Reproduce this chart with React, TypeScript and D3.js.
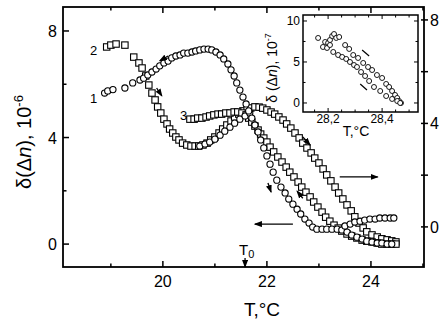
import * as d3 from "d3";

// curve 1, circles (left axis)
const curve1: [number, number][] = [
  [18.88, 5.67], [18.94, 5.75], [19.04, 5.8], [19.27, 5.86], [19.42, 6.05], [19.56, 6.16],
  [19.63, 6.23], [19.71, 6.35], [19.79, 6.46], [19.87, 6.57], [19.94, 6.69], [20.02, 6.8],
  [20.1, 6.87], [20.17, 6.99], [20.25, 7.06], [20.33, 7.1], [20.4, 7.17], [20.48, 7.17],
  [20.56, 7.21], [20.63, 7.25], [20.71, 7.29], [20.79, 7.32], [20.87, 7.32], [20.94, 7.29],
  [21.02, 7.21], [21.1, 7.1], [21.17, 6.95], [21.25, 6.76], [21.31, 6.54], [21.37, 6.31],
  [21.42, 6.05], [21.48, 5.78], [21.54, 5.52], [21.6, 5.26], [21.65, 5.0], [21.71, 4.73],
  [21.77, 4.47], [21.83, 4.21], [21.88, 3.91], [21.94, 3.61], [22.0, 3.31], [22.06, 3.0],
  [22.12, 2.7], [22.19, 2.4], [22.27, 2.14], [22.35, 1.92], [22.42, 1.69], [22.5, 1.5],
  [22.58, 1.31], [22.65, 1.13], [22.73, 0.94], [22.81, 0.79], [22.88, 0.64], [22.96, 0.56],
  [23.06, 0.56], [23.15, 0.56], [23.25, 0.56], [23.35, 0.56], [23.44, 0.53], [23.54, 0.45],
  [23.63, 0.34], [23.73, 0.26], [23.83, 0.19], [23.92, 0.11], [24.02, 0.08], [24.12, 0.04],
  [24.21, 0.04], [24.31, 0.0], [24.4, 0.0],
];

// circles on the rising side of the dip (left axis)
const curve1Dip: [number, number][] = [
  [20.71, 3.68], [20.81, 3.76], [20.9, 3.83], [21.0, 3.94], [21.1, 4.09], [21.19, 4.24],
  [21.29, 4.39], [21.38, 4.54], [21.48, 4.69], [21.58, 4.81], [21.67, 4.92],
];

// circles, upper-right tail (left axis)
const curve1Tail: [number, number][] = [
  [23.5, 0.68], [23.6, 0.75], [23.69, 0.83], [23.79, 0.86], [23.88, 0.9], [23.98, 0.94],
  [24.08, 0.94], [24.17, 0.98], [24.27, 0.98], [24.37, 0.98], [24.44, 0.98],
];

// curve 2, squares (left axis)
const curve2: [number, number][] = [
  [18.92, 7.4], [19.0, 7.47], [19.1, 7.51], [19.27, 7.47], [19.44, 7.02], [19.54, 6.8],
  [19.6, 6.61], [19.67, 6.31], [19.73, 5.97], [19.79, 5.67], [19.85, 5.41], [19.9, 5.15],
  [19.96, 4.92], [20.02, 4.69], [20.08, 4.51], [20.13, 4.32], [20.19, 4.17], [20.25, 4.02],
  [20.31, 3.91], [20.38, 3.79], [20.46, 3.72], [20.54, 3.68], [20.62, 3.68], [20.69, 3.68],
  [20.77, 3.72], [20.85, 3.79], [20.92, 3.91], [21.0, 4.02], [21.08, 4.17], [21.15, 4.32],
  [21.23, 4.47], [21.31, 4.62], [21.38, 4.77], [21.46, 4.88], [21.54, 5.0], [21.62, 5.07],
  [21.69, 5.11], [21.77, 5.15],
];

// curve 2 continued, squares (right axis)
const curve2Right: [number, number][] = [
  [21.85, 4.63], [21.92, 4.59], [22.0, 4.52], [22.08, 4.44], [22.15, 4.36], [22.23, 4.25],
  [22.31, 4.13], [22.38, 3.98], [22.46, 3.82], [22.54, 3.63], [22.62, 3.44], [22.69, 3.24],
  [22.77, 3.05], [22.85, 2.86], [22.92, 2.66], [23.0, 2.47], [23.08, 2.24], [23.15, 2.01],
  [23.23, 1.78], [23.31, 1.54], [23.38, 1.31], [23.46, 1.08], [23.54, 0.85], [23.62, 0.62],
  [23.69, 0.39], [23.77, 0.15], [23.85, -0.04], [23.92, -0.19], [24.02, -0.31], [24.12, -0.39],
  [24.21, -0.46], [24.31, -0.5], [24.4, -0.54], [24.48, -0.58],
];

// curve 3, squares (left axis)
const curve3: [number, number][] = [
  [20.52, 4.69], [20.6, 4.69], [20.67, 4.73], [20.75, 4.73], [20.83, 4.77], [20.9, 4.81],
  [20.98, 4.85], [21.06, 4.88], [21.13, 4.88], [21.21, 4.92], [21.29, 4.92], [21.37, 4.96],
  [21.44, 4.96], [21.52, 4.92], [21.6, 4.85], [21.65, 4.73], [21.71, 4.58], [21.77, 4.43],
  [21.83, 4.28], [21.88, 4.13], [21.94, 3.98], [22.0, 3.83], [22.06, 3.64], [22.13, 3.46],
  [22.21, 3.27], [22.29, 3.08], [22.37, 2.89], [22.44, 2.7], [22.52, 2.52], [22.6, 2.33],
  [22.67, 2.14], [22.75, 1.95], [22.83, 1.77], [22.9, 1.58], [22.98, 1.39], [23.06, 1.2],
  [23.13, 1.01], [23.21, 0.86], [23.29, 0.71], [23.37, 0.6], [23.44, 0.49], [23.54, 0.38],
  [23.63, 0.3], [23.73, 0.23], [23.83, 0.15], [23.92, 0.11], [24.02, 0.08], [24.12, 0.04],
  [24.21, 0.0], [24.31, 0.0], [24.4, 0.0], [24.48, 0.0],
];

// inset, circles
const insetData: [number, number][] = [
  [28.163, 7.93], [28.181, 6.83], [28.189, 7.44], [28.2, 7.32], [28.207, 7.68], [28.215, 8.17],
  [28.222, 8.41], [28.23, 7.93], [28.241, 8.05], [28.196, 6.71], [28.207, 7.07],
  [28.263, 7.07], [28.278, 6.59], [28.293, 5.85], [28.311, 5.49], [28.33, 4.88], [28.348, 4.39],
  [28.363, 4.02], [28.381, 3.41], [28.4, 3.05], [28.415, 2.32], [28.426, 1.95], [28.437, 1.46],
  [28.448, 0.98], [28.456, 0.61], [28.463, 0.24], [28.47, 0.0],
  [28.219, 6.22], [28.237, 5.85], [28.252, 5.61], [28.267, 5.37], [28.281, 5.0], [28.296, 4.63],
  [28.307, 4.39], [28.322, 3.78], [28.337, 3.29], [28.352, 2.68], [28.37, 1.95], [28.393, 1.46],
  [28.415, 0.85], [28.437, 0.49], [28.456, 0.24], [28.467, 0.0],
];
const insetDashes: [number, number, number, number][] = [
  [28.326, 6.46, 28.352, 5.73],
  [28.319, 2.32, 28.344, 1.59],
];

const xMajor = [20, 22, 24];
const xMinor = [19, 21, 23, 25];
const yMajor = [0, 4, 8];
const yMinor = [2, 6];
const rightTicks = [0, 2, 4, 6, 8];
const insetXTicks = [28.15, 28.2, 28.25, 28.3, 28.35, 28.4, 28.45, 28.5];
const insetXLabels = [28.2, 28.4];
const insetYTicks = [0, 2.5, 5, 7.5, 10];
const insetYLabels = [0, 5, 10];

// small direction arrows [T1, v1, T2, v2] on left axis
const arrows: [number, number, number, number][] = [
  [20.1, 7.06, 19.94, 6.88],
  [19.88, 5.86, 19.98, 5.56],
  [22.69, 4.02, 22.83, 3.72],
  [22.02, 2.29, 22.08, 1.95],
  [22.69, 1.72, 22.58, 1.99],
  [23.4, 2.52, 24.13, 2.52],
  [22.5, 0.75, 21.77, 0.75],
];
const T0 = 21.58;

const FONT = "'Liberation Sans', Arial, Helvetica, sans-serif";

export default function App() {
  const W = 443, H = 325;
  const fr = { left: 63, right: 424, top: 7, bottom: 267 };
  const x = d3.scaleLinear().domain([18.08, 25.02]).range([fr.left, fr.right]);
  const yL = d3.scaleLinear().domain([-0.86, 8.9]).range([fr.bottom, fr.top]);
  const yR = d3.scaleLinear().domain([-1.55, 8.5]).range([fr.bottom, fr.top]);

  const ins = { left: 303, right: 418, top: 15, bottom: 112 };
  const xi = d3.scaleLinear().domain([28.107, 28.533]).range([ins.left, ins.right]);
  const yi = d3.scaleLinear().domain([-1.1, 10.73]).range([ins.bottom, ins.top]);

  const circles = (data: [number, number][], key: string) =>
    data.map((d, i) => (
      <circle key={key + i} cx={x(d[0])} cy={yL(d[1])} r={3.1} fill="#fff" stroke="#000" strokeWidth={1.1} />
    ));
  const squares = (data: [number, number][], y: d3.ScaleLinear<number, number>, key: string) =>
    data.map((d, i) => (
      <rect key={key + i} x={x(d[0]) - 3.2} y={y(d[1]) - 3.2} width={6.4} height={6.4} fill="#fff" stroke="#000" strokeWidth={1.1} />
    ));

  return (
    <svg width={W} height={H} style={{ position: "absolute", left: 0, top: 0, background: "#fff" }} fontFamily={FONT}>
      <defs>
        <marker id="ah" markerUnits="userSpaceOnUse" markerWidth={8} markerHeight={6} refX={7} refY={3} orient="auto">
          <path d="M0,0 L8,3 L0,6 z" fill="#000" />
        </marker>
      </defs>

      {/* main frame */}
      <rect x={fr.left} y={fr.top} width={fr.right - fr.left} height={fr.bottom - fr.top} fill="none" stroke="#000" strokeWidth={1.8} />

      {/* bottom / top ticks */}
      {xMajor.map(t => (
        <g key={"xM" + t}>
          <line x1={x(t)} x2={x(t)} y1={fr.bottom} y2={fr.bottom - 6} stroke="#000" strokeWidth={1.5} />
          <line x1={x(t)} x2={x(t)} y1={fr.top} y2={fr.top + 6} stroke="#000" strokeWidth={1.5} />
          <text x={x(t)} y={287} textAnchor="middle" fontSize={16}>{t}</text>
        </g>
      ))}
      {xMinor.map(t => (
        <g key={"xm" + t}>
          <line x1={x(t)} x2={x(t)} y1={fr.bottom} y2={fr.bottom - 3.5} stroke="#000" strokeWidth={1.5} />
          <line x1={x(t)} x2={x(t)} y1={fr.top} y2={fr.top + 3.5} stroke="#000" strokeWidth={1.5} />
        </g>
      ))}

      {/* left axis */}
      {yMajor.map(t => (
        <g key={"yM" + t}>
          <line x1={fr.left} x2={fr.left + 6} y1={yL(t)} y2={yL(t)} stroke="#000" strokeWidth={1.5} />
          <text x={57} y={yL(t) + 6} textAnchor="end" fontSize={16}>{t}</text>
        </g>
      ))}
      {yMinor.map(t => (
        <line key={"ym" + t} x1={fr.left} x2={fr.left + 3.5} y1={yL(t)} y2={yL(t)} stroke="#000" strokeWidth={1.5} />
      ))}

      {/* right axis */}
      {rightTicks.map(t => (
        <line key={"r" + t} x1={fr.right - 3} x2={fr.right + 4} y1={yR(t)} y2={yR(t)} stroke="#000" strokeWidth={1.5} />
      ))}
      {yMajor.map(t => (
        <text key={"rl" + t} x={430} y={yR(t) + 6} fontSize={16}>{t}</text>
      ))}

      {/* axis titles */}
      <text x={262} y={316} textAnchor="middle" fontSize={19}>T,°C</text>
      <text transform={`translate(31,${142}) rotate(-90)`} textAnchor="middle" fontSize={20}>
        δ(Δ<tspan fontStyle="italic">n</tspan>), 10<tspan dy={-8} fontSize={13}>-6</tspan>
      </text>

      {/* data */}
      {squares(curve2, yL, "s2")}
      {squares(curve2Right, yR, "s2r")}
      {squares(curve3, yL, "s3")}
      {circles(curve1Dip, "c1d")}
      {circles(curve1, "c1")}
      {circles(curve1Tail, "c1t")}

      {/* curve labels */}
      <text x={x(18.67)} y={yL(7.3) + 5} textAnchor="middle" fontSize={13}>2</text>
      <text x={x(18.67)} y={yL(5.5) + 5} textAnchor="middle" fontSize={13}>1</text>
      <text x={x(20.4)} y={yL(4.85) + 5} textAnchor="middle" fontSize={13}>3</text>

      {/* arrows */}
      {arrows.map((a, i) => (
        <line key={"a" + i} x1={x(a[0])} y1={yL(a[1])} x2={x(a[2])} y2={yL(a[3])} stroke="#000" strokeWidth={1.3} markerEnd="url(#ah)" />
      ))}
      <line x1={x(T0)} x2={x(T0)} y1={fr.bottom - 9} y2={fr.bottom} stroke="#000" strokeWidth={1.3} markerEnd="url(#ah)" />
      <text x={x(T0) - 6} y={255} fontSize={15}>T<tspan dy={3} fontSize={11}>0</tspan></text>

      {/* inset */}
      <rect x={ins.left} y={ins.top} width={ins.right - ins.left} height={ins.bottom - ins.top} fill="#fff" stroke="#000" strokeWidth={1.5} />
      {insetXTicks.map(t => {
        const big = insetXLabels.includes(t);
        return (
          <g key={"ix" + t}>
            <line x1={xi(t)} x2={xi(t)} y1={ins.bottom} y2={ins.bottom - (big ? 4 : 2.5)} stroke="#000" strokeWidth={1} />
            <line x1={xi(t)} x2={xi(t)} y1={ins.top} y2={ins.top + (big ? 4 : 2.5)} stroke="#000" strokeWidth={1} />
          </g>
        );
      })}
      {insetXLabels.map(t => (
        <text key={"ixl" + t} x={xi(t)} y={123} textAnchor="middle" fontSize={12}>{String(t).replace(".", ",")}</text>
      ))}
      {insetYTicks.map(t => {
        const big = insetYLabels.includes(t);
        return (
          <g key={"iy" + t}>
            <line x1={ins.left} x2={ins.left + (big ? 4 : 2.5)} y1={yi(t)} y2={yi(t)} stroke="#000" strokeWidth={1} />
            <line x1={ins.right} x2={ins.right - (big ? 4 : 2.5)} y1={yi(t)} y2={yi(t)} stroke="#000" strokeWidth={1} />
          </g>
        );
      })}
      {insetYLabels.map(t => (
        <text key={"iyl" + t} x={300} y={yi(t) + 4} textAnchor="end" fontSize={12}>{t}</text>
      ))}
      <text x={356} y={136} textAnchor="middle" fontSize={14}>T,°C</text>
      <text transform={`translate(277,${68}) rotate(-90)`} textAnchor="middle" fontSize={14}>
        δ (Δ<tspan fontStyle="italic">n</tspan>), 10<tspan dy={-6} fontSize={9}>-7</tspan>
      </text>
      {insetData.map((d, i) => (
        <circle key={"in" + i} cx={xi(d[0])} cy={yi(d[1])} r={2.5} fill="#fff" stroke="#000" strokeWidth={0.9} />
      ))}
      {insetDashes.map((d, i) => (
        <line key={"id" + i} x1={xi(d[0])} y1={yi(d[1])} x2={xi(d[2])} y2={yi(d[3])} stroke="#000" strokeWidth={1.2} />
      ))}
    </svg>
  );
}
